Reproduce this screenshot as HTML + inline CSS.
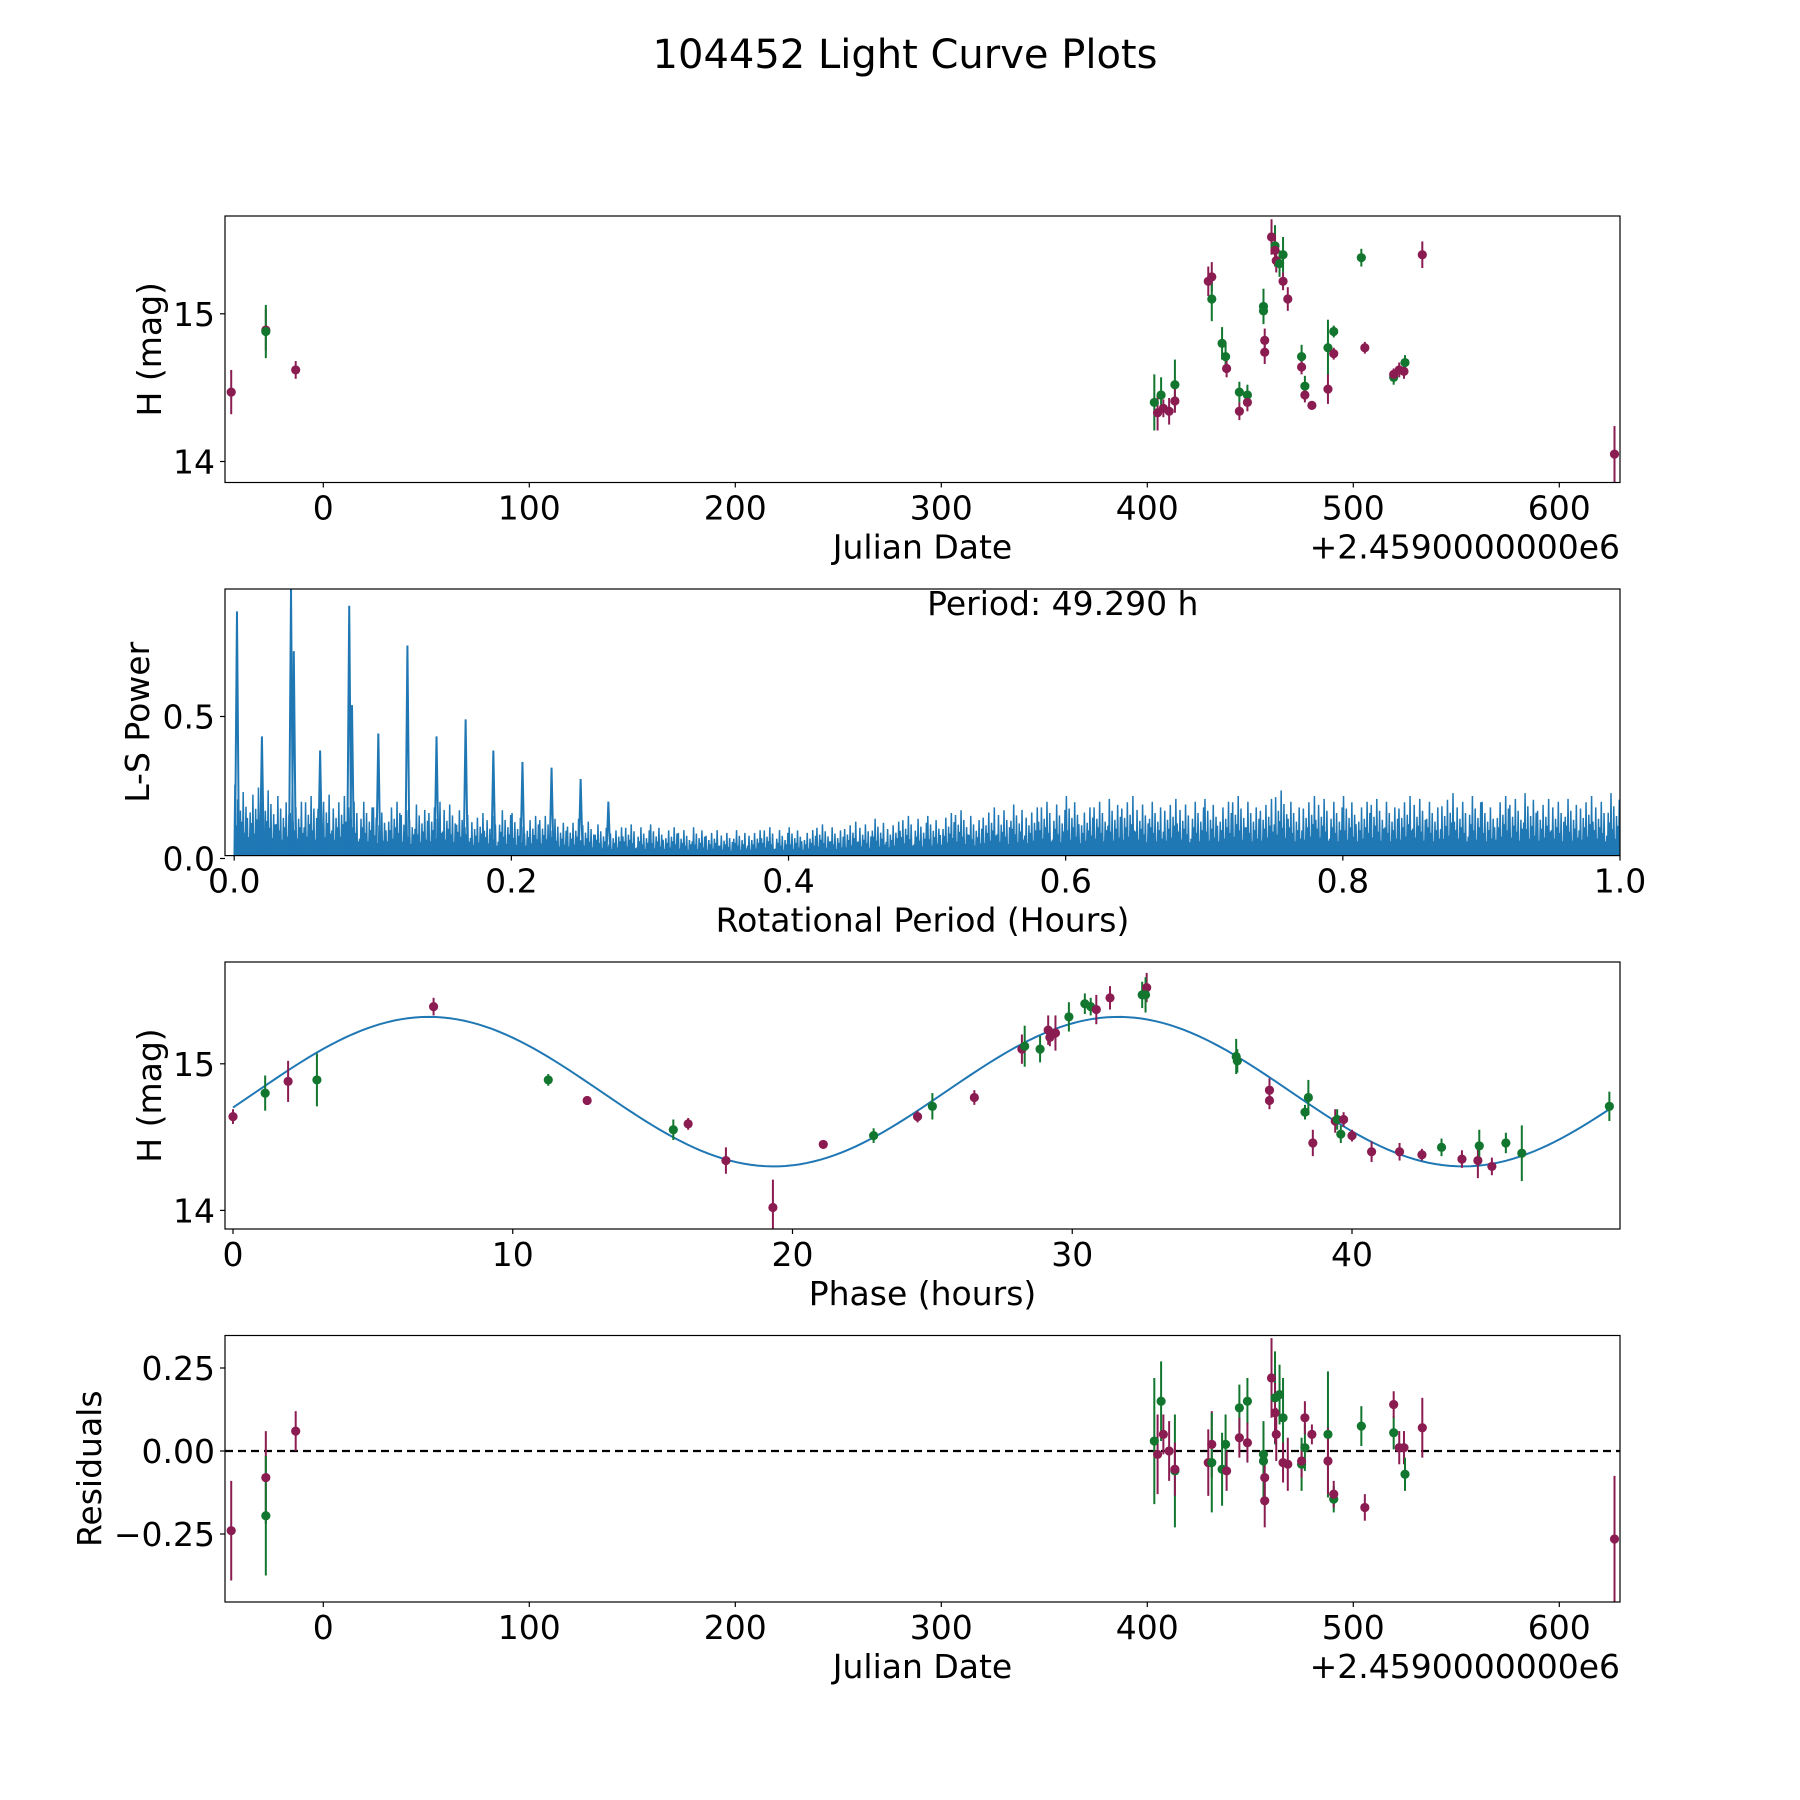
<!DOCTYPE html>
<html><head><meta charset="utf-8"><style>
html,body{margin:0;padding:0;background:#fff;}
svg{display:block;font-family:"DejaVu Sans","Liberation Sans",sans-serif;}
</style></head><body>
<svg id="fig" width="1800" height="1800" viewBox="0 0 1800 1800">
<rect x="0" y="0" width="1800" height="1800" fill="#fff"/>
<text x="905" y="68" font-size="40" text-anchor="middle">104452 Light Curve Plots</text>
</svg>
<script>
// ---------- data ----------
const lcDay=[-44.7,-27.9,-27.9,-13.4,403.4,405,406.7,407.8,410.6,413.4,413.4,429.6,431.3,431.3,436.3,438,438.5,444.7,444.7,448.6,448.6,456.4,456.4,457,457,460.3,462,462,462.6,464.2,465.9,465.9,468.2,474.9,474.9,476.5,476.5,479.9,487.7,487.7,490.5,490.5,503.9,505.6,519.6,519.6,522.3,524.6,525.1,533.5,626.8];
const lcMag=[14.47,14.89,14.88,14.62,14.40,14.33,14.45,14.36,14.34,14.52,14.41,15.22,15.25,15.10,14.80,14.71,14.63,14.47,14.34,14.45,14.40,15.05,15.02,14.82,14.74,15.52,15.46,15.43,15.36,15.34,15.40,15.22,15.10,14.71,14.64,14.51,14.45,14.38,14.77,14.49,14.88,14.73,15.38,14.77,14.57,14.59,14.62,14.61,14.67,15.40,14.05];
const lcErr=[0.15,0.14,0.18,0.06,0.19,0.12,0.12,0.06,0.09,0.17,0.08,0.1,0.1,0.15,0.11,0.09,0.06,0.07,0.06,0.07,0.06,0.12,0.08,0.08,0.08,0.12,0.14,0.09,0.08,0.09,0.12,0.06,0.08,0.08,0.05,0.07,0.05,0.03,0.19,0.1,0.04,0.04,0.06,0.04,0.05,0.04,0.05,0.05,0.05,0.09,0.19];
const lcCol=['m','m','g','m','g','m','g','m','m','g','m','m','m','g','g','g','m','g','m','g','m','g','g','m','m','m','g','m','m','g','g','m','m','g','m','g','m','m','g','m','g','m','g','m','g','m','m','m','g','m','m'];
const resVal=[-0.24,-0.08,-0.195,0.06,0.03,-0.01,0.15,0.05,0.0,-0.06,-0.055,-0.035,0.02,-0.035,-0.055,0.02,-0.06,0.13,0.04,0.15,0.025,-0.03,-0.01,-0.08,-0.15,0.22,0.16,0.115,0.05,0.17,0.10,-0.035,-0.04,-0.04,-0.03,0.01,0.10,0.05,0.05,-0.03,-0.145,-0.13,0.075,-0.17,0.055,0.14,0.01,0.01,-0.07,0.07,-0.265];
const phHour=[0.0,1.15,1.97,3.0,7.17,11.27,12.66,15.74,16.27,17.62,19.3,21.1,22.9,24.47,25.0,26.5,28.2,28.3,28.85,29.14,29.2,29.4,29.88,30.45,30.66,30.86,31.35,32.5,32.66,32.62,35.86,35.9,37.05,37.05,38.32,38.44,38.6,39.4,39.47,39.7,39.6,40.0,40.7,41.7,42.5,43.2,43.93,44.5,44.55,45.0,45.5,46.07,49.2];
const phMag=[14.64,14.80,14.88,14.89,15.39,14.89,14.75,14.55,14.59,14.34,14.02,14.45,14.51,14.64,14.71,14.77,15.10,15.12,15.10,15.23,15.18,15.21,15.32,15.41,15.39,15.37,15.45,15.47,15.52,15.47,15.05,15.02,14.82,14.75,14.67,14.77,14.46,14.61,14.62,14.62,14.52,14.51,14.40,14.40,14.38,14.43,14.35,14.34,14.44,14.30,14.46,14.39,14.71];
const phErr=[0.05,0.12,0.14,0.18,0.06,0.04,0.03,0.07,0.04,0.09,0.19,0.03,0.05,0.04,0.09,0.05,0.1,0.14,0.09,0.1,0.06,0.12,0.1,0.07,0.06,0.1,0.08,0.09,0.1,0.12,0.12,0.08,0.08,0.06,0.05,0.12,0.09,0.08,0.07,0.05,0.06,0.04,0.07,0.06,0.04,0.06,0.06,0.12,0.11,0.06,0.07,0.19,0.1];
const phCol=['m','g','m','g','m','g','m','g','m','m','m','m','g','m','g','m','m','g','g','m','m','m','g','g','g','m','m','g','m','g','g','g','m','m','g','g','m','m','g','m','g','m','m','m','m','g','m','m','g','m','g','g','g'];
const fitOffset=[14.81];
const fitAmp=[0.51];
const fitPeriod=[24.645];
const fitPeak=[7.0];
const lsEnv=[0.26,0.25,0.24,0.22,0.2,0.22,0.25,0.22,0.2,0.2,0.18,0.2,0.17,0.19,0.2,0.19,0.17,0.16,0.15,0.17,0.16,0.15,0.15,0.14,0.14,0.13,0.12,0.11,0.12,0.11,0.12,0.11,0.1,0.11,0.1,0.09,0.1,0.1,0.11,0.1,0.11,0.1,0.12,0.11,0.13,0.12,0.14,0.13,0.15,0.14,0.15,0.16,0.17,0.15,0.18,0.17,0.19,0.18,0.2,0.19,0.22,0.18,0.2,0.21,0.22,0.19,0.2,0.21,0.19,0.2,0.21,0.2,0.22,0.2,0.21,0.24,0.2,0.22,0.21,0.2,0.22,0.2,0.21,0.2,0.22,0.21,0.2,0.23,0.2,0.22,0.2,0.22,0.21,0.23,0.21,0.2,0.21,0.22,0.2,0.23];
const lsSub=[1.0,0.45,0.8,0.3,0.65,0.5,0.9,0.35,0.7,0.55];
const lsPeakX=[0.002,0.02,0.041,0.043,0.062,0.083,0.085,0.104,0.125,0.146,0.167,0.187,0.208,0.229,0.25,0.27];
const lsPeakY=[0.87,0.43,0.95,0.73,0.38,0.89,0.54,0.44,0.75,0.43,0.49,0.38,0.34,0.32,0.28,0.2];
const dayTicks=[0,100,200,300,400,500,600];
const magTicks=[14,15];
const resTicks=[-0.25,0,0.25];
const resTickLabels=['\u22120.25','0.00','0.25'];
const lsXTicks=[0,0.2,0.4,0.6,0.8,1.0];
const lsXTickLabels=['0.0','0.2','0.4','0.6','0.8','1.0'];
const lsYTicks=[0,0.5];
const lsYTickLabels=['0.0','0.5'];
const phTicks=[0,10,20,30,40];

// ---------- drawing ----------
const NS='http://www.w3.org/2000/svg';
const svg=document.getElementById('fig');
const COL={m:'#8b1c52',g:'#12762f'};
const FS=33;
function mk(tag,attrs,parent){const e=document.createElementNS(NS,tag);for(const k in attrs)e.setAttribute(k,attrs[k]);(parent||svg).appendChild(e);return e;}
const L=225,R=1620;
function lin(d0,d1,p0,p1){return v=>p0+(v-d0)*(p1-p0)/(d1-d0);}
function panel(name,top,bot,xs,ys,xt,xtl,yt,ytl,xlabel,ylabel,ylabX,offset){
  const g=mk('g',{});
  
  
  const clip=mk('clipPath',{id:'c-'+name},g);
  mk('rect',{x:L,y:top,width:R-L,height:bot-top},clip);
  const plot=mk('g',{'clip-path':'url(#c-'+name+')'},g);
  
  
  xt.forEach((v,i)=>{const x=xs(v);
    const t=mk('line',{x1:x,x2:x,y1:bot,y2:bot+5,stroke:'#000','stroke-width':1.2},g);
    
    const tl=mk('text',{x:x,y:bot+37,'font-size':FS,'text-anchor':'middle'},g);tl.textContent=xtl[i];
    });
  yt.forEach((v,i)=>{const y=ys(v);
    const t=mk('line',{x1:L-5,x2:L,y1:y,y2:y,stroke:'#000','stroke-width':1.2},g);
    
    const tl=mk('text',{x:L-10,y:y+12,'font-size':FS,'text-anchor':'end'},g);tl.textContent=ytl[i];
    });
  const xl=mk('text',{x:(L+R)/2,y:bot+76,'font-size':FS,'text-anchor':'middle'},g);xl.textContent=xlabel;
  
  const yl=mk('text',{x:ylabX,y:(top+bot)/2,'font-size':FS,'text-anchor':'middle',transform:'rotate(-90 '+ylabX+' '+(top+bot)/2+')',dy:11},g);yl.textContent=ylabel;
  
  if(offset){const o=mk('text',{x:R,y:bot+76,'font-size':FS,'text-anchor':'end'},g);o.textContent=offset;
    }
  return {g,plot,finish:()=>{const f=mk('rect',{x:L,y:top,width:R-L,height:bot-top,fill:'none',stroke:'#000','stroke-width':1.2},g);
    }};
}
function errpts(p,xs,ys,X,Y,E,C){
  X.forEach((v,i)=>{const x=xs(v);
    const l=mk('line',{x1:x,x2:x,y1:ys(Y[i]-E[i]),y2:ys(Y[i]+E[i]),stroke:COL[C[i]],'stroke-width':2},p);
    });
  X.forEach((v,i)=>{
    const c=mk('circle',{cx:xs(v),cy:ys(Y[i]),r:4.6,fill:COL[C[i]]},p);
    });
}
const dayX=lin(0,100,323.3,529.3);
const dayLbl=dayTicks.map(String);
// panel 1
{const top=216,bot=482.5;const ys=lin(14,15,461.5,313.8);
 const P=panel('light-curve-panel',top,bot,dayX,ys,dayTicks,dayLbl,magTicks,magTicks.map(String),'Julian Date','H (mag)',150,'+2.4590000000e6');
 errpts(P.plot,dayX,ys,lcDay,lcMag,lcErr,lcCol);P.finish();}
// panel 2
{const top=589,bot=855.6;const xs=lin(0,1,234.2,1620);const ys=lin(0,0.5,858.5,716.5);
 const P=panel('periodogram-panel',top,bot,xs,ys,lsXTicks,lsXTickLabels,lsYTicks,lsYTickLabels,'Rotational Period (Hours)','L-S Power',138,null);
 let d='';const n=lsEnv.length;const ns=lsSub.length;
 lsEnv.forEach((v,i)=>{const x0=xs(i/n),x1=xs((i+1)/n),w=(x1-x0)/ns;
   for(let k=0;k<ns;k++){const h=v*lsSub[(k+i*3)%ns];d+=(d?'L':'M')+(x0+k*w)+','+ys(0.01)+'L'+(x0+k*w+w/2)+','+ys(h)+'L'+(x0+(k+1)*w)+','+ys(0.01);}});
 const pa=mk('path',{d:d,fill:'none',stroke:'#1f77b4','stroke-width':1.5,'stroke-linejoin':'miter'},P.plot);
 
 const base=mk('rect',{x:xs(0),y:ys(0.02),width:xs(1)-xs(0),height:ys(0)-ys(0.02),fill:'#1f77b4'},P.plot);
 
 lsPeakX.forEach((v,i)=>{const pk=mk('path',{d:'M'+(xs(v)-2)+','+ys(0)+'L'+xs(v)+','+ys(lsPeakY[i])+'L'+(xs(v)+2)+','+ys(0),fill:'none',stroke:'#1f77b4','stroke-width':2},P.plot);
   });
 const t=mk('text',{x:xs(0.5),y:615,'font-size':FS},P.g);t.textContent='Period: 49.290 h';
 
 P.finish();}
// panel 3
{const top=962,bot=1229;const xs=lin(0,40,233,1352);const ys=lin(14,15,1210.4,1063.8);
 const P=panel('phase-panel',top,bot,xs,ys,phTicks,phTicks.map(String),magTicks,magTicks.map(String),'Phase (hours)','H (mag)',150,null);
 let d='';for(let h=0;h<=49.29;h+=0.25){const m=fitOffset[0]+fitAmp[0]*Math.cos(2*Math.PI*(h-fitPeak[0])/fitPeriod[0]);d+=(d?'L':'M')+xs(h)+','+ys(m);}
 const c=mk('path',{d:d,fill:'none',stroke:'#1f77b4','stroke-width':2},P.plot);
 
 errpts(P.plot,xs,ys,phHour,phMag,phErr,phCol);P.finish();}
// panel 4
{const top=1335.5,bot=1602;const ys=lin(0,0.25,1451,1368);
 const P=panel('residuals-panel',top,bot,dayX,ys,dayTicks,dayLbl,resTicks,resTickLabels,'Julian Date','Residuals',90,'+2.4590000000e6');
 const z=mk('line',{x1:L,x2:R,y1:ys(0),y2:ys(0),stroke:'#000','stroke-width':2.2,'stroke-dasharray':'8,5'},P.plot);
 
 errpts(P.plot,dayX,ys,lcDay,resVal,lcErr,lcCol);P.finish();}
</script>
</body></html>
